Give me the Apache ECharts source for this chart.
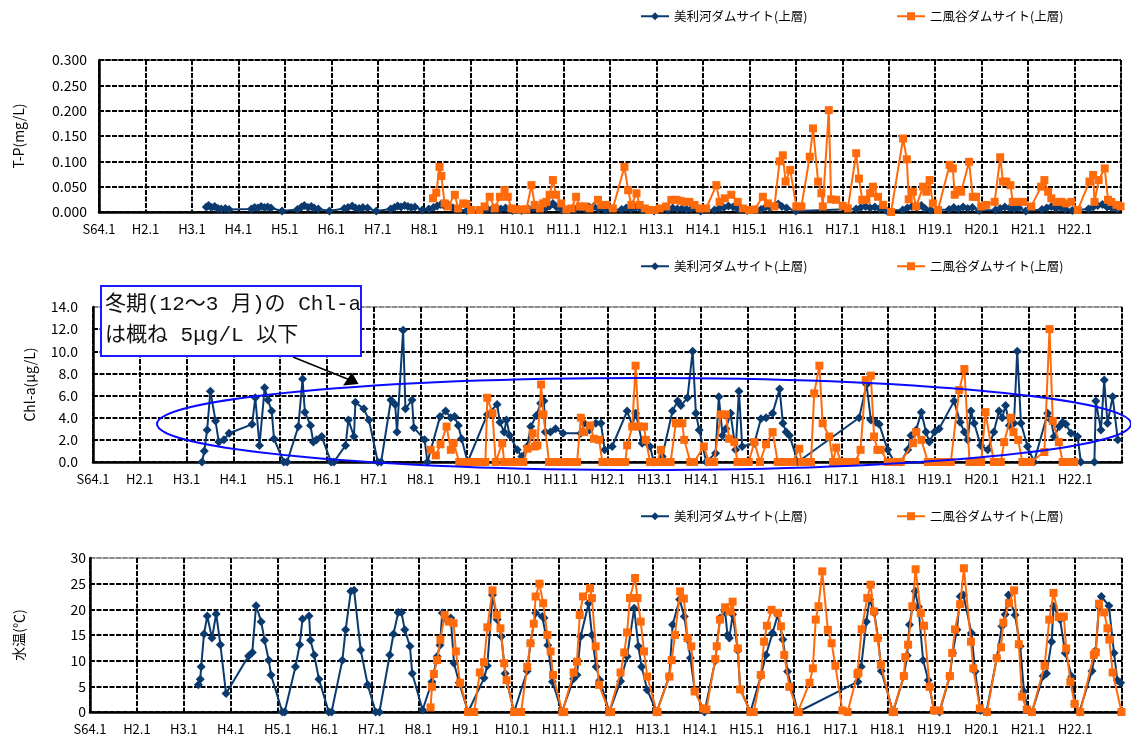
<!DOCTYPE html>
<html><head><meta charset="utf-8">
<script src="https://cdn.jsdelivr.net/npm/echarts@6/dist/echarts.min.js"></script>
<style>html,body{margin:0;padding:0;background:#fff}#c{width:1131px;height:740px}</style>
</head><body><div id="c"></div>
<script>
const xTickLabels = ['S64.1','H2.1','H3.1','H4.1','H5.1','H6.1','H7.1','H8.1','H9.1','H10.1','H11.1','H12.1','H13.1','H14.1','H15.1','H16.1','H17.1','H18.1','H19.1','H20.1','H21.1','H22.1'];
const seriesNames = ['美利河ダムサイト(上層)','二風谷ダムサイト(上層)'];
const yNames = ['T-P(mg/L)','Chl-a(μg/L)','水温(℃)'];

// T-P (mg/L)  [decimal year, value]
const tpBibiri = [[1991.31,0.010],[1991.36,0.013],[1991.42,0.009],[1991.49,0.011],[1991.56,0.007],[1991.63,0.006],[1991.72,0.007],[1991.80,0.005],
[1992.28,0.006],[1992.35,0.009],[1992.42,0.008],[1992.49,0.011],[1992.56,0.009],[1992.63,0.010],[1992.70,0.008],[1992.94,0.002],
[1993.27,0.005],[1993.36,0.010],[1993.42,0.013],[1993.50,0.009],[1993.57,0.011],[1993.63,0.008],[1993.72,0.006],[1993.96,0.002],
[1994.28,0.007],[1994.36,0.009],[1994.45,0.012],[1994.52,0.008],[1994.60,0.007],[1994.68,0.009],[1994.78,0.008],[1994.97,0.002],
[1995.28,0.006],[1995.36,0.009],[1995.43,0.012],[1995.50,0.010],[1995.58,0.013],[1995.65,0.011],[1995.72,0.009],[1995.80,0.010],[1995.96,0.004],
[1996.10,0.006],[1996.20,0.009],[1996.28,0.012],[1996.36,0.015],[1996.44,0.012],[1996.52,0.014],[1996.62,0.008],[1996.72,0.005],[1996.92,0.003],
[1997.25,0.004],[1997.35,0.007],[1997.45,0.005],[1997.55,0.009],[1997.65,0.006],[1997.75,0.008],[1997.90,0.003],
[1998.10,0.003],[1998.25,0.006],[1998.35,0.008],[1998.45,0.006],[1998.55,0.010],[1998.62,0.008],[1998.70,0.012],[1998.77,0.017],[1998.85,0.010],[1998.97,0.004],
[1999.25,0.005],[1999.35,0.008],[1999.45,0.007],[1999.55,0.010],[1999.65,0.011],[1999.75,0.006],[1999.90,0.004],
[2000.25,0.005],[2000.35,0.008],[2000.45,0.006],[2000.55,0.009],[2000.65,0.007],[2000.75,0.005],[2000.95,0.002],
[2001.25,0.004],[2001.35,0.008],[2001.45,0.006],[2001.55,0.007],[2001.65,0.005],[2001.75,0.006],[2001.95,0.002],
[2002.25,0.004],[2002.35,0.007],[2002.45,0.009],[2002.55,0.012],[2002.65,0.010],[2002.75,0.006],[2002.95,0.003],
[2003.25,0.005],[2003.35,0.010],[2003.45,0.008],[2003.55,0.013],[2003.62,0.016],[2003.70,0.011],[2003.80,0.008],[2004.00,0.002],
[2005.30,0.006],[2005.40,0.009],[2005.50,0.011],[2005.60,0.008],[2005.70,0.010],[2005.80,0.007],[2005.95,0.003],
[2006.30,0.004],[2006.40,0.008],[2006.50,0.011],[2006.60,0.009],[2006.70,0.013],[2006.78,0.007],[2006.90,0.004],
[2007.30,0.005],[2007.40,0.009],[2007.50,0.006],[2007.60,0.010],[2007.70,0.007],[2007.80,0.009],[2007.95,0.003],
[2008.30,0.004],[2008.40,0.007],[2008.50,0.010],[2008.60,0.008],[2008.70,0.006],[2008.80,0.008],[2008.95,0.002],
[2009.30,0.005],[2009.40,0.008],[2009.50,0.011],[2009.60,0.007],[2009.70,0.009],[2009.80,0.006],[2009.95,0.003],
[2010.30,0.006],[2010.40,0.010],[2010.50,0.013],[2010.60,0.015],[2010.70,0.010],[2010.80,0.008],[2010.92,0.006]];

const tpNibutani = [[1996.19,0.027],[1996.26,0.038],[1996.33,0.089],[1996.37,0.071],[1996.44,0.017],[1996.51,0.011],[1996.66,0.034],[1996.73,0.007],[1996.84,0.017],[1996.91,0.016],
[1997.01,0.004],[1997.19,0.004],[1997.30,0.011],[1997.41,0.030],[1997.52,0.007],[1997.63,0.030],[1997.73,0.043],[1997.80,0.030],[1997.88,0.007],[1997.98,0.005],
[1998.09,0.005],[1998.20,0.005],[1998.31,0.053],[1998.38,0.014],[1998.49,0.007],[1998.56,0.017],[1998.63,0.020],[1998.70,0.034],[1998.77,0.063],[1998.84,0.034],[1998.95,0.017],
[1999.06,0.005],[1999.17,0.007],[1999.27,0.030],[1999.35,0.011],[1999.45,0.011],[1999.56,0.007],[1999.74,0.024],[1999.81,0.014],[1999.92,0.014],
[2000.06,0.007],[2000.31,0.089],[2000.39,0.043],[2000.46,0.014],[2000.57,0.037],[2000.64,0.014],[2000.75,0.007],[2000.85,0.004],[2000.96,0.004],
[2001.07,0.007],[2001.21,0.011],[2001.32,0.024],[2001.43,0.024],[2001.52,0.022],[2001.61,0.020],[2001.71,0.020],[2001.82,0.014],[2001.93,0.007],
[2002.07,0.007],[2002.29,0.053],[2002.36,0.020],[2002.47,0.027],[2002.61,0.034],[2002.75,0.020],[2002.86,0.007],
[2003.00,0.004],[2003.11,0.005],[2003.29,0.030],[2003.40,0.017],[2003.54,0.011],[2003.65,0.100],[2003.72,0.112],[2003.78,0.060],[2003.88,0.083],
[2004.01,0.011],[2004.12,0.011],[2004.30,0.109],[2004.37,0.165],[2004.48,0.060],[2004.55,0.037],[2004.58,0.011],[2004.71,0.201],[2004.76,0.025],[2004.87,0.024],
[2005.01,0.012],[2005.12,0.007],[2005.30,0.116],[2005.36,0.066],[2005.43,0.024],[2005.52,0.024],[2005.60,0.037],[2005.66,0.050],[2005.77,0.030],[2005.88,0.014],
[2006.05,0.000],[2006.31,0.145],[2006.39,0.104],[2006.43,0.025],[2006.52,0.040],[2006.59,0.011],[2006.74,0.050],[2006.81,0.040],[2006.88,0.063],[2006.95,0.017],
[2007.06,0.004],[2007.31,0.093],[2007.38,0.086],[2007.42,0.034],[2007.49,0.043],[2007.56,0.040],[2007.73,0.099],[2007.81,0.030],[2007.88,0.030],[2007.99,0.011],
[2008.10,0.014],[2008.28,0.020],[2008.40,0.108],[2008.46,0.060],[2008.53,0.060],[2008.62,0.053],[2008.67,0.020],[2008.78,0.020],[2008.89,0.020],
[2009.07,0.011],[2009.28,0.050],[2009.35,0.063],[2009.43,0.040],[2009.50,0.027],[2009.61,0.020],[2009.72,0.020],[2009.82,0.017],[2009.93,0.020],
[2010.07,0.004],[2010.32,0.060],[2010.40,0.073],[2010.43,0.020],[2010.52,0.063],[2010.65,0.086],[2010.72,0.024],[2010.79,0.020],[2010.90,0.014],[2010.99,0.011]];

// Chl-a (μg/L)
const chlBibiri = [[1991.33,0],[1991.38,1.0],[1991.44,2.9],[1991.51,6.4],[1991.62,3.7],[1991.69,1.8],[1991.80,2.0],[1991.91,2.6],
[1992.40,3.4],[1992.47,5.8],[1992.56,1.5],[1992.67,6.7],[1992.74,5.6],[1992.82,4.6],[1992.87,2.1],[1993.08,0],
[1993.15,0],[1993.39,3.2],[1993.48,7.5],[1993.53,4.5],[1993.65,3.3],[1993.71,1.8],[1993.78,2.0],[1993.89,2.3],[1994.09,0],
[1994.15,0],[1994.40,1.5],[1994.46,3.8],[1994.58,2.3],[1994.61,5.4],[1994.79,4.8],[1994.90,3.8],[1995.09,0],
[1995.16,0],[1995.37,5.6],[1995.46,5.2],[1995.50,2.7],[1995.63,11.9],[1995.68,4.8],[1995.82,5.6],[1995.86,3.1],[1996.09,2.0],[1996.15,0],
[1996.42,4.1],[1996.54,4.6],[1996.65,4.0],[1996.73,4.1],[1996.81,3.3],[1996.88,2.1],[1997.01,0],
[1997.43,4.3],[1997.64,5.2],[1997.70,3.6],[1997.79,2.7],[1997.84,3.8],[1997.91,2.4],[1998.07,1.1],
[1998.17,0.5],[1998.28,1.4],[1998.36,3.2],[1998.48,4.2],[1998.57,5.3],[1998.64,5.5],[1998.67,2.7],[1998.78,2.7],[1998.89,3.0],[1999.05,2.6],
[1999.43,2.6],[1999.50,3.5],[1999.61,2.9],[1999.75,3.5],[1999.86,3.5],[1999.94,1.1],[2000.10,1.4],
[2000.42,4.6],[2000.53,3.3],[2000.60,4.4],[2000.67,3.2],[2000.74,1.7],[2000.91,1.4],[2000.99,0],
[2001.17,0.5],[2001.39,4.6],[2001.50,5.5],[2001.57,5.1],[2001.71,5.8],[2001.82,10.0],[2001.89,4.4],[2001.96,2.9],[2002.11,0],
[2002.31,0.8],[2002.38,5.9],[2002.46,2.4],[2002.53,3.0],[2002.63,4.4],[2002.74,1.1],[2002.81,6.4],[2002.88,1.4],
[2003.14,1.7],[2003.28,3.9],[2003.39,4.0],[2003.53,4.4],[2003.68,6.6],[2003.75,3.5],[2003.82,2.7],[2003.89,2.4],[2004.07,0],
[2005.38,4.0],[2005.54,7.0],[2005.63,3.8],[2005.74,3.6],[2005.81,3.4],[2005.99,1.1],[2006.13,0],
[2006.27,0],[2006.42,1.1],[2006.49,2.4],[2006.60,2.9],[2006.71,4.5],[2006.81,2.7],[2006.88,1.8],[2006.99,2.7],
[2007.09,3.0],[2007.41,5.5],[2007.54,3.6],[2007.63,2.7],[2007.70,2.0],[2007.77,4.6],[2007.84,3.5],[2007.98,1.5],[2008.13,1.1],
[2008.26,2.7],[2008.37,4.6],[2008.44,4.0],[2008.51,5.1],[2008.59,3.3],[2008.69,3.5],[2008.76,10.0],[2008.84,3.5],[2008.98,1.4],[2009.12,0],
[2009.41,4.4],[2009.48,3.8],[2009.55,2.3],[2009.66,3.2],[2009.73,3.6],[2009.80,3.4],[2009.91,2.6],[2010.05,2.3],[2010.12,0],[2010.41,0],
[2010.44,5.5],[2010.55,2.9],[2010.62,7.4],[2010.69,3.5],[2010.80,5.9],[2010.91,2.0]];

const chlNibutani = [[1996.22,1.1],[1996.33,0.6],[1996.43,1.6],[1996.56,3.2],[1996.65,1.1],[1996.71,1.7],[1996.83,0],[1996.91,0],[1997.00,0],
[1997.08,0],[1997.17,0],[1997.25,0],[1997.33,0],[1997.39,0],[1997.43,5.8],[1997.54,4.4],[1997.61,0],[1997.75,1.7],[1997.79,0],[1997.88,0],[1997.96,0],
[1998.04,0],[1998.12,0],[1998.20,0],[1998.29,1.2],[1998.40,2.6],[1998.45,1.4],[1998.50,1.5],[1998.58,7.0],[1998.63,4.3],[1998.75,0],[1998.84,0],[1998.93,0],
[1999.01,0],[1999.09,0],[1999.17,0],[1999.26,0],[1999.35,0],[1999.43,4.0],[1999.50,2.7],[1999.63,3.3],[1999.71,2.1],[1999.82,2.0],[1999.89,0],[1999.97,0],
[2000.05,0],[2000.13,0],[2000.21,0],[2000.30,0],[2000.38,0],[2000.42,1.5],[2000.53,3.2],[2000.60,8.7],[2000.67,3.2],[2000.78,3.2],[2000.82,2.0],[2000.91,0],[2000.99,0],
[2001.07,0],[2001.14,1.1],[2001.20,0],[2001.28,0],[2001.35,0],[2001.46,3.5],[2001.53,3.5],[2001.60,3.5],[2001.64,2.0],[2001.77,0],[2001.85,0],[2002.06,1.4],
[2002.17,0],[2002.28,0],[2002.42,4.3],[2002.53,4.3],[2002.60,2.1],[2002.71,1.8],[2002.78,0],[2002.86,0],[2002.94,0],[2003.02,0],
[2003.14,1.8],[2003.26,0],[2003.39,1.6],[2003.53,2.7],[2003.64,0],[2003.72,0],[2003.80,0],[2003.88,0],[2003.96,0],
[2004.10,1.2],[2004.15,0],[2004.24,0],[2004.35,0],[2004.42,6.2],[2004.53,8.7],[2004.60,3.5],[2004.74,2.3],[2004.82,0],[2004.89,1.3],[2004.99,0],
[2005.08,0],[2005.15,0],[2005.22,0],[2005.30,0],[2005.41,1.1],[2005.52,7.4],[2005.63,7.8],[2005.70,2.3],[2005.77,1.1],[2005.84,1.1],[2005.99,0],
[2006.10,0],[2006.18,0],[2006.27,0],[2006.53,1.7],[2006.60,2.7],[2006.71,2.0],[2006.85,0],[2006.95,0],
[2007.05,0],[2007.14,0],[2007.24,0],[2007.34,0],[2007.52,6.5],[2007.63,8.4],[2007.74,0],[2007.82,0],[2007.90,0],[2007.99,0],
[2008.08,4.5],[2008.26,0],[2008.33,0],[2008.41,0],[2008.48,1.8],[2008.62,4.0],[2008.68,2.7],[2008.78,2.0],[2008.87,0],[2008.96,0],
[2009.05,0],[2009.34,0.9],[2009.45,12.0],[2009.52,3.7],[2009.65,1.8],[2009.73,0],[2009.80,0],[2009.88,0],[2009.98,0]];

// 水温 (℃)
const wtBibiri = [[1991.31,5.3],[1991.35,6.4],[1991.37,8.8],[1991.43,15.2],[1991.50,18.7],[1991.60,14.4],[1991.69,19.1],[1991.78,13.1],[1991.90,3.6],
[1992.38,10.9],[1992.46,11.6],[1992.54,20.7],[1992.65,17.6],[1992.72,14.0],[1992.81,10.1],[1992.86,7.2],[1993.10,0],[1993.15,0],
[1993.38,8.8],[1993.47,13.1],[1993.53,18.1],[1993.67,18.7],[1993.70,14.0],[1993.78,11.1],[1993.88,6.4],[1994.09,0],[1994.15,0],
[1994.38,10.1],[1994.45,16.0],[1994.56,23.5],[1994.63,23.7],[1994.77,12.1],[1994.92,5.3],[1995.09,0],[1995.17,0],
[1995.39,11.1],[1995.47,15.2],[1995.57,19.4],[1995.64,19.4],[1995.71,16.0],[1995.82,12.8],[1995.87,7.5],[1996.09,0.4],
[1996.29,5.9],[1996.40,10.8],[1996.46,13.0],[1996.51,19.3],[1996.62,17.8],[1996.69,18.3],[1996.76,9.5],[1996.87,5.7],[1997.06,0],
[1997.40,6.6],[1997.47,9.0],[1997.58,22.8],[1997.68,18.0],[1997.77,14.7],[1997.85,7.5],[1998.04,0],
[1998.32,8.0],[1998.39,13.4],[1998.50,19.3],[1998.64,18.6],[1998.68,18.3],[1998.76,13.0],[1998.86,5.9],[1999.06,0],
[1999.31,6.5],[1999.38,7.2],[1999.46,14.7],[1999.63,21.2],[1999.70,15.0],[1999.79,8.8],[1999.87,6.2],[2000.07,0],
[2000.31,6.0],[2000.45,10.8],[2000.60,20.2],[2000.69,12.8],[2000.76,8.8],[2000.88,4.3],[2001.08,0],
[2001.35,7.0],[2001.42,17.0],[2001.57,21.9],[2001.67,18.6],[2001.74,14.1],[2001.80,10.5],[2001.89,4.3],[2002.10,0],
[2002.33,10.0],[2002.43,18.3],[2002.54,19.5],[2002.59,15.0],[2002.63,14.4],[2002.70,19.0],[2002.81,12.0],[2002.86,4.5],[2003.08,0],
[2003.30,7.0],[2003.41,11.1],[2003.55,15.4],[2003.66,18.9],[2003.77,14.1],[2003.87,7.9],[2004.09,0],
[2005.37,5.9],[2005.44,8.8],[2005.55,17.6],[2005.62,21.9],[2005.72,19.3],[2005.80,14.4],[2005.87,8.0],[2006.12,0],
[2006.35,7.0],[2006.42,11.0],[2006.47,17.0],[2006.59,23.5],[2006.66,20.5],[2006.76,10.1],[2006.87,6.2],[2006.99,0.3],[2007.11,0],
[2007.33,7.0],[2007.39,11.5],[2007.48,16.0],[2007.55,22.5],[2007.62,22.8],[2007.79,15.4],[2007.87,7.9],[2007.98,0.3],[2008.11,0],
[2008.33,10.5],[2008.44,16.7],[2008.51,19.0],[2008.58,22.8],[2008.72,18.9],[2008.83,12.8],[2008.91,4.0],[2009.00,0.5],[2009.08,0],
[2009.32,7.0],[2009.39,7.5],[2009.50,13.7],[2009.54,20.6],[2009.68,18.0],[2009.79,11.5],[2009.93,6.9],[2009.99,1.5],[2010.09,0],
[2010.36,8.0],[2010.44,12.0],[2010.51,20.5],[2010.56,22.5],[2010.72,20.7],[2010.83,11.5],[2010.90,6.2],[2010.97,5.7]];

const wtNibutani = [[1996.26,0.9],[1996.29,4.9],[1996.33,7.4],[1996.40,10.1],[1996.47,14.1],[1996.56,18.9],[1996.65,17.6],[1996.75,17.3],[1996.80,11.8],[1996.89,5.7],[1997.06,0],[1997.19,0],
[1997.31,7.7],[1997.40,9.7],[1997.47,16.5],[1997.58,23.7],[1997.67,18.9],[1997.75,16.3],[1997.83,9.5],[1997.88,6.2],[1998.04,0],[1998.19,0],
[1998.32,8.8],[1998.39,13.4],[1998.46,17.2],[1998.50,22.5],[1998.58,25.0],[1998.66,21.2],[1998.75,15.0],[1998.82,11.8],[1998.87,7.2],[1999.07,0],[1999.11,0],
[1999.31,7.7],[1999.38,9.8],[1999.44,18.9],[1999.51,22.5],[1999.66,24.1],[1999.70,22.2],[1999.78,12.8],[1999.85,5.3],[2000.07,0],[2000.11,0],
[2000.31,7.7],[2000.39,11.6],[2000.45,15.5],[2000.51,22.2],[2000.62,26.1],[2000.67,22.2],[2000.74,17.6],[2000.81,11.8],[2000.88,6.9],[2001.08,0],[2001.10,0],
[2001.35,6.9],[2001.40,10.1],[2001.47,15.0],[2001.58,23.5],[2001.66,22.1],[2001.74,14.4],[2001.82,12.8],[2001.89,4.0],[2002.07,0.7],[2002.14,0.5],
[2002.33,10.3],[2002.36,12.8],[2002.43,18.0],[2002.54,20.4],[2002.63,19.6],[2002.70,21.5],[2002.81,12.4],[2002.86,4.4],[2003.08,0],[2003.15,0],
[2003.30,7.2],[2003.37,13.7],[2003.43,16.8],[2003.53,19.9],[2003.67,19.3],[2003.73,16.7],[2003.80,11.1],[2003.91,4.9],[2004.09,0],[2004.11,0],
[2004.34,5.7],[2004.41,8.5],[2004.47,18.0],[2004.53,20.6],[2004.61,27.4],[2004.73,16.0],[2004.81,13.4],[2004.89,9.0],[2005.04,0.3],[2005.15,0],
[2005.36,7.4],[2005.38,7.7],[2005.45,16.1],[2005.57,22.2],[2005.64,24.8],[2005.71,19.6],[2005.79,14.4],[2005.86,9.2],[2006.11,0],[2006.14,0],
[2006.35,7.0],[2006.38,10.7],[2006.44,13.1],[2006.53,20.6],[2006.60,27.8],[2006.71,19.3],[2006.78,16.8],[2006.90,4.9],[2006.99,0.3],[2007.11,0.3],
[2007.33,7.0],[2007.38,11.5],[2007.44,16.1],[2007.55,21.0],[2007.63,28.0],[2007.78,13.7],[2007.83,8.5],[2007.97,0.7],[2008.12,0],
[2008.33,10.5],[2008.42,12.6],[2008.47,17.4],[2008.59,21.2],[2008.70,23.7],[2008.80,13.2],[2008.87,3.0],[2008.97,0.5],[2009.08,0],
[2009.35,9.0],[2009.45,18.0],[2009.54,23.2],[2009.65,18.5],[2009.76,18.6],[2009.81,12.4],[2009.90,5.9],[2009.99,1.6],[2010.11,0],
[2010.40,11.1],[2010.44,11.6],[2010.51,21.1],[2010.62,19.4],[2010.69,16.3],[2010.73,14.1],[2010.80,7.7],[2010.99,0]];

const FONT = '"Noto Sans CJK JP","Noto Sans",sans-serif';
const BLUE = '#0b3a6e', ORANGE = '#ff6a0a';
const grids = [
  {left:99, top:60, width:1022, height:152},
  {left:93, top:307, width:1029, height:155},
  {left:90, top:558, width:1032, height:154}
];
const yCfg = [
  {max:0.3, interval:0.05, dec:3, gap:73, margin:12},
  {max:14, interval:2, dec:1, gap:56, margin:15},
  {max:30, interval:5, dec:0, gap:64, margin:4}
];
const legendTops = [10, 260, 510];
const dataSets = [[tpBibiri,tpNibutani],[chlBibiri,chlNibutani],[wtBibiri,wtNibutani]];

const xAxes = grids.map((g,i)=>({
  type:'value', gridIndex:i, min:1989, max:2011, interval:1,
  axisLine:{show:true, onZero:false, lineStyle:{color:'#000', width:2.5}},
  axisTick:{show:false},
  axisLabel:{color:'#000', fontSize:13, fontFamily:FONT, margin:11,
    formatter:v=>xTickLabels[Math.round(v-1989)]||''},
  splitLine:{show:true, lineStyle:{color:'#000', width:2, type:[5,1.5]}}
}));
const yAxes = yCfg.map((c,i)=>{
  const n = Math.round(c.max/c.interval)+1;
  const cols = [];
  for(let k=0;k<n;k++) cols.push(k===n-1 && i>0 ? '#8a8a8a' : '#000');
  return {
    type:'value', gridIndex:i, min:0, max:c.max, interval:c.interval,
    name:yNames[i], nameLocation:'middle', nameRotate:90, nameGap:c.gap,
    nameTextStyle:{color:'#000', fontSize:14, fontFamily:FONT},
    axisLine:{show:true, lineStyle:{color:'#000', width:2.5}},
    axisTick:{show:false},
    axisLabel:{color:'#000', fontSize:14, fontFamily:FONT, margin:c.margin,
      formatter:v=>v.toFixed(c.dec)},
    splitLine:{show:true, lineStyle:{color:cols, width:2, type:[5,1.5]}}
  };
});
const series = [];
dataSets.forEach((pair,i)=>{
  series.push({name:seriesNames[0], type:'line', xAxisIndex:i, yAxisIndex:i, data:pair[0],
    symbol:'diamond', symbolSize:9, color:BLUE, lineStyle:{color:BLUE,width:2},
    itemStyle:{color:BLUE}, z:3});
  series.push({name:seriesNames[1], type:'line', xAxisIndex:i, yAxisIndex:i, data:pair[1],
    symbol:'rect', symbolSize:8, color:ORANGE, lineStyle:{color:ORANGE,width:2},
    itemStyle:{color:ORANGE}, z:4});
});
const legends = [];
legendTops.forEach(t=>{
  [[640,0],[896,1]].forEach(([l,k])=>{
    legends.push({left:l, top:t, padding:0, itemWidth:28, itemHeight:10, itemGap:0,
      data:[seriesNames[k]], selectedMode:false,
      textStyle:{color:'#000', fontSize:12.5, fontFamily:FONT}});
  });
});

const chart = echarts.init(document.getElementById('c'), null, {renderer:'canvas'});
chart.setOption({
  animation:false,
  backgroundColor:'#fff',
  grid:grids.map((g,i)=>Object.assign({show:true, borderColor: i===0?'#000':'#8a8a8a', borderWidth:1}, g)),
  xAxis:xAxes, yAxis:yAxes, legend:legends, series:series,
  graphic:[
    {type:'ellipse', z:50, shape:{cx:644, cy:424, rx:487, ry:46},
      style:{fill:null, stroke:'#0a0aff', lineWidth:2}},
    {type:'line', z:50, shape:{x1:293, y1:357, x2:350, y2:380}, style:{stroke:'#000', lineWidth:1.5}},
    {type:'polygon', z:50, shape:{points:[[343,385.5],[358.5,384],[352,372.5]]}, style:{fill:'#000'}},
    {type:'rect', z:51, shape:{x:101, y:286, width:260, height:70},
      style:{fill:'#fff', stroke:'#1a1aff', lineWidth:2}},
    {type:'text', z:52, x:105, y:289, style:{text:'冬期(12～3 月)の Chl-a\nは概ね 5μg/L 以下',
      font:'21px "Liberation Mono","Noto Sans CJK JP",monospace', lineHeight:31, fill:'#111'}}
  ]
});
</script></body></html>
